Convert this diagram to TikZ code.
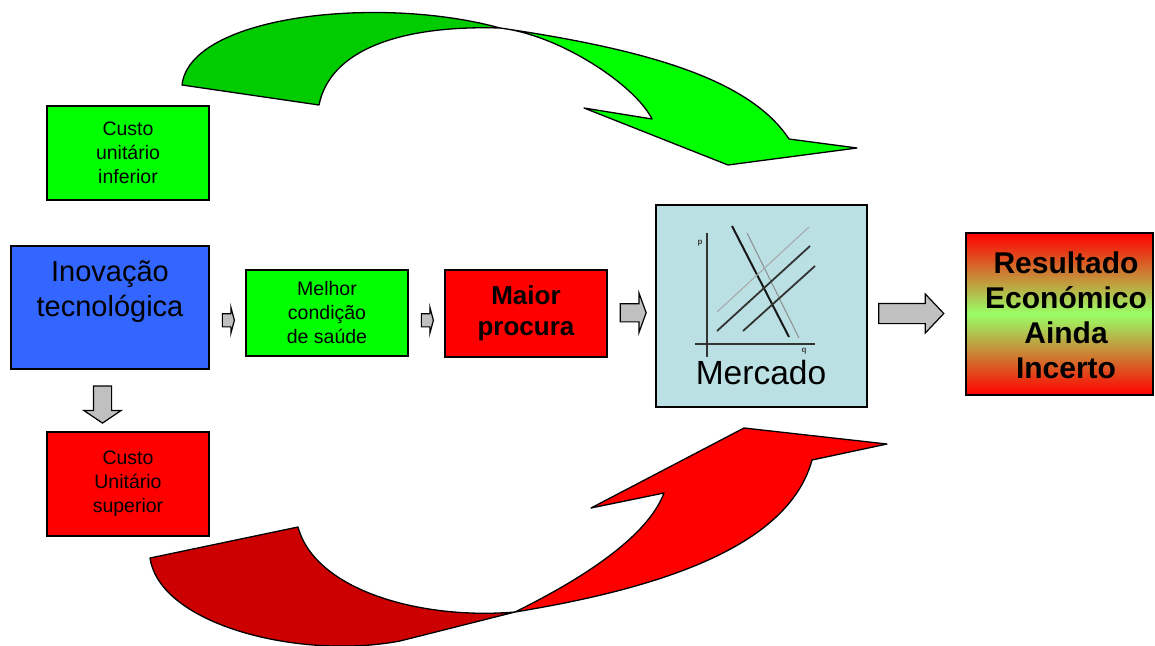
\documentclass[tikz,border=0pt]{standalone}
\usepackage{fontspec}
\setmainfont{Liberation Sans}
\usetikzlibrary{arrows.meta,positioning,calc,shapes.arrows}
\definecolor{boxgreen}{RGB}{0,255,0}
\definecolor{boxred}{RGB}{255,0,0}
\definecolor{boxblue}{RGB}{51,102,255}
\definecolor{mktblue}{RGB}{187,224,227}
\definecolor{arrgray}{RGB}{192,192,192}
\definecolor{darkgreen}{RGB}{0,204,0}
\definecolor{darkred}{RGB}{204,0,0}
\definecolor{midgreen}{RGB}{153,255,102}

\begin{document}
\begin{tikzpicture}[x=1pt, y=-1pt,
          box/.style={draw=black, line width=1.5pt, align=center, inner sep=0pt},
          smallbox/.style={box, minimum width=162pt,
                      font=\fontsize{19.5}{24}\selectfont},
          blockarr/.style={single arrow, draw=black, line width=1.2pt,
                      fill=arrgray, inner xsep=0pt, minimum width=0pt},
          ribbon/.style={draw=black, line width=1.3pt, line join=round},
          grline/.style={line width=1.8pt, black!80},
          thinline/.style={line width=1pt, black!45}
        ]
          \useasboundingbox (0,0) rectangle (1155,645);
          % curved arrows
          \filldraw[ribbon, fill=darkgreen] (182,85) .. controls (190,15) and (380,-5) .. (500,28)
                     .. controls (400,25) and (330,50) .. (319,105) -- cycle;
          \filldraw[ribbon, fill=boxgreen] (500,28) .. controls (650,50) and (750,80) .. (789,139)
                     -- (857,148) -- (728,165) -- (584,108) -- (652,119)
                     .. controls (635,85) and (560,35) .. (500,28) -- cycle;
          \filldraw[ribbon, fill=darkred] (150,558) .. controls (160,625) and (300,660) .. (400,641)
                     -- (515,612) .. controls (420,620) and (315,590) .. (298,527) -- cycle;
          \filldraw[ribbon, fill=boxred] (515,612) .. controls (600,570) and (650,530) .. (664,493)
                     -- (591,508) -- (744,428) -- (887,444) -- (812,460)
                     .. controls (790,540) and (680,585) .. (515,612) -- cycle;
          % boxes
          \node[smallbox, fill=boxgreen, minimum height=94pt] (infcost) at (128,153) {Custo\\unitário\\inferior};
          \node[box, fill=boxblue, minimum width=198pt, minimum height=123pt] (inov) at (110,307.5) {};
          \node[font=\fontsize{29}{35}\selectfont, align=center] (inovtxt) at ([yshift=15.5pt]inov.center) {Inovação\\tecnológica};
          \node[smallbox, fill=boxred, minimum height=104pt] (supcost) at (128,484) {Custo\\Unitário\\superior};
          \node[smallbox, fill=boxgreen, minimum height=86pt] (saude) at (327,313) {Melhor\\condição\\de saúde};
          \node[box, fill=boxred, minimum width=162pt, minimum height=87pt,
                font=\bfseries\fontsize{26}{31}\selectfont] (procura) at (526,313.5) {Maior\\procura};
          \node[box, fill=mktblue, minimum width=211pt, minimum height=202pt] (mercado) at (761.5,306) {};
          \node[font=\fontsize{33.5}{36}\selectfont] (mertxt) at (761,373) {Mercado};
          \node[box, top color=boxred, bottom color=boxred, middle color=midgreen,
                minimum width=187pt, minimum height=162pt] (result) at (1059.5,314) {};
          \node[font=\bfseries\fontsize{30}{35}\selectfont, align=center] (restxt) at (1066,315)
                {Resultado\\Económico\\Ainda\\Incerto};
          % market graph
          \draw[grline] (707,233) -- (707,357);
          \draw[grline] (695,344) -- (815,344);
          \node[font=\bfseries\fontsize{8}{8}\selectfont, text=black!75] (plbl) at (700,243) {p};
          \node[font=\bfseries\fontsize{8}{8}\selectfont, text=black!75] (qlbl) at (804,351) {q};
          \draw[grline, black!90, line width=2pt] (732,226) -- (789,337);
          \draw[thinline] (747,233) -- (799,338);
          \draw[thinline, black!35] (717,312) -- (809,227);
          \draw[grline] (717,331) -- (810,246);
          \draw[grline] (743,331) -- (815,266);
          % block arrows
          \node[blockarr, inner ysep=6pt, single arrow head extend=6.5pt, single arrow tip angle=150,
                minimum height=12pt] (a1) at ($(inov.east)!0.5!(saude.west)+(0,10)$) {};
          \node[blockarr, inner ysep=6pt, single arrow head extend=6.5pt, single arrow tip angle=150,
                minimum height=12pt] (a2) at ($(saude.east)!0.5!(procura.west)+(0,7)$) {};
          \node[blockarr, inner ysep=8.5pt, single arrow head extend=10.5pt, single arrow tip angle=140,
                minimum height=26pt] (a3) at ($(procura.east)!0.5!(mercado.west)+(0,3)$) {};
          \node[blockarr, inner ysep=9.5pt, single arrow head extend=9.5pt, single arrow tip angle=93,
                minimum height=65pt] (a4) at ($(mercado.east)!0.5!(result.west)+(-10,3.5)$) {};
          \node[blockarr, rotate=-90, inner ysep=8.5pt, single arrow head extend=9.5pt, single arrow tip angle=112,
                minimum height=37pt] (a5) at ($(inov.south)!0.5!(supcost.north)+(-16.5,1)$) {};
        \end{tikzpicture}
\end{document}
